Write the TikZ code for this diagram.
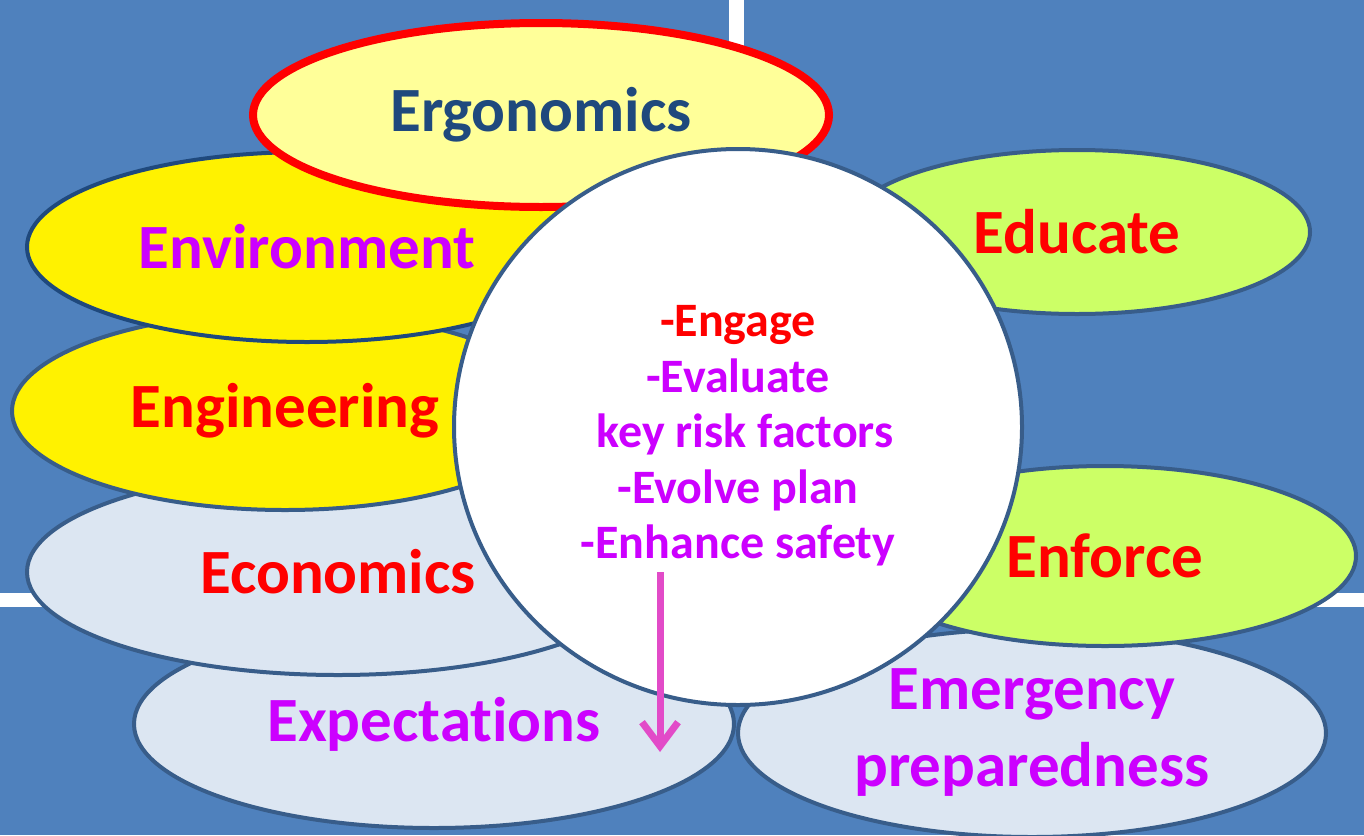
\documentclass[tikz,border=0pt]{standalone}
\usepackage{fontspec}
\setmainfont[Ligatures=NoCommon]{Carlito}
\usepackage{xcolor}
\usepackage{tikz}
\usetikzlibrary{shapes.geometric,arrows.meta}
\definecolor{bgblue}{HTML}{4F81BD}
\definecolor{rimblue}{HTML}{385D8A}
\definecolor{deepblue}{HTML}{1F497D}
\definecolor{paleyellow}{HTML}{FFFF99}
\definecolor{paleblue}{HTML}{DCE6F2}
\definecolor{limegreen}{HTML}{CCFF66}
\definecolor{lilac}{HTML}{CC00FF}
\definecolor{pinkarrow}{HTML}{E24BC8}

\begin{document}
\begin{tikzpicture}[x=0.5pt,y=-0.5pt,
  blob/.style={ellipse, draw=rimblue, line width=2pt, inner sep=0pt,
    font=\bfseries\fontsize{31.5}{38.5}\selectfont, align=center},
  hub/.style={ellipse, draw=rimblue, line width=2pt, fill=white, inner sep=0pt},
  aims/.style={inner sep=0pt, text=lilac, align=center,
    font=\bfseries\fontsize{24}{27.8}\selectfont},
  pointer/.style={draw=pinkarrow, line width=3.5pt,
    -{Straight Barb[length=12pt,width=18pt]}}]
\useasboundingbox (0,0) rectangle (1364,835);
% background quadrants
\fill[bgblue] (0,0) rectangle (1364,835);
\fill[white] (729,0) rectangle (744,600);
\fill[white] (0,593) rectangle (1364,607);
% ovals, back to front
\node[blob, fill=paleblue, minimum width=300pt, minimum height=104pt, text=lilac] (expect) at (434,724) {Expectations};
\node[blob, fill=paleblue, minimum width=294pt, minimum height=104pt, text=lilac] (emerg) at (1032,733) {Emergency\\preparedness};
\node[blob, fill=paleblue, minimum width=311pt, minimum height=103pt, text=red] (econ) at (338,572) {Economics};
\node[blob, fill=limegreen, minimum width=251pt, minimum height=90pt, text=red] (enforce) at (1105,556) {Enforce};
\node[blob, fill=limegreen, minimum width=233pt, minimum height=82pt, text=red] (educate) at (1077,232) {Educate};
\node[blob, fill=yellow, minimum width=273pt, minimum height=99pt, text=red] (engin) at (285,411) {Engineering};
\node[blob, fill=yellow, draw=deepblue, minimum width=280pt, minimum height=95pt, text=lilac] (environ) at (307,247) {Environment};
\node[blob, fill=paleyellow, draw=red, line width=4pt, minimum width=288pt, minimum height=92pt, text=deepblue] (ergo) at (541,115) {Ergonomics};
% centre circle
\node[hub, minimum width=284pt, minimum height=278pt] (core) at (738,427) {};
\node[aims] (steps) at (738,436)
  {\textcolor{red}{-Engage}\\-Evaluate\\\hspace*{0.3em}key risk factors\\-Evolve plan\\-Enhance safety};
\coordinate (tail) at (660,572);
\coordinate (tip) at (660,752);
\draw[pointer] (tail) -- (tip);
\end{tikzpicture}
\end{document}
